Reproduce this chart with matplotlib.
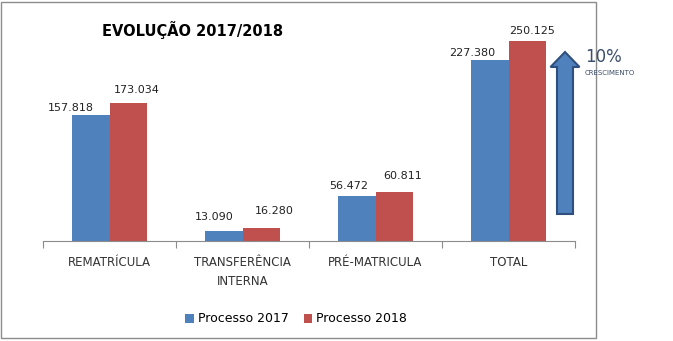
import matplotlib.pyplot as plt
import numpy as np
from matplotlib.patches import Rectangle, FancyArrow

categories = ["REMATRÍCULA", "TRANSFERÊNCIA\nINTERNA", "PRÉ-MATRICULA", "TOTAL"]
proc2017 = [157818, 13090, 56472, 227380]
proc2018 = [173034, 16280, 60811, 250125]
labels2017 = ["157.818", "13.090", "56.472", "227.380"]
labels2018 = ["173.034", "16.280", "60.811", "250.125"]

# label offsets (pixels) relative to bar top-centre, as placed in the original
offs2017 = [(-20, 7), (-10, 14), (-8, 10), (-18, 7)]
offs2018 = [(9, 13), (13, 17), (8, 16), (5, 10)]

plt.rcParams['font.family'] = ['DejaVu Sans']
fig = plt.figure(figsize=(6.73, 3.41), dpi=100)
fig.patches.append(Rectangle((1/673, 3/341), 595/673, 336/341, transform=fig.transFigure,
                             fill=False, edgecolor='#8c8c8c', linewidth=1))

ax = fig.add_axes([43/673, 1-241/341, 532/673, 221/341])
x = np.arange(len(categories))
w = 0.282
blue = '#4f81bd'
red = '#c0504d'
b1 = ax.bar(x - w/2, proc2017, w, color=blue, label='Processo 2017')
b2 = ax.bar(x + w/2, proc2018, w, color=red, label='Processo 2018')
for i in range(len(categories)):
    ax.annotate(labels2017[i], (x[i] - w/2, proc2017[i]), xytext=offs2017[i],
                textcoords='offset pixels', ha='center', va='center', fontsize=8, color='#222222')
    ax.annotate(labels2018[i], (x[i] + w/2, proc2018[i]), xytext=offs2018[i],
                textcoords='offset pixels', ha='center', va='center', fontsize=8, color='#222222')

ax.set_xlim(-0.5, 3.5)
ax.set_ylim(0, 277000)
for s in ['top', 'right', 'left']:
    ax.spines[s].set_visible(False)
ax.spines['bottom'].set_color('#8c8c8c')
ax.set_yticks([])
ax.set_xticks([-0.5, 0.5, 1.5, 2.5, 3.5], minor=False)
ax.set_xticklabels([])
ax.tick_params(axis='x', length=5, color='#8c8c8c', direction='out')
ax.set_xticks(x, minor=True)
ax.set_xticklabels(categories, minor=True, fontsize=8.5, color='#333333', linespacing=1.6)
ax.tick_params(axis='x', which='minor', length=0, pad=11)

fig.text(193/673, 1-30/341, "EVOLUÇÃO 2017/2018", ha='center', va='center', fontsize=10.5, fontweight='bold')

arr = FancyArrow(565/673, 1-214/341, 0, 162/341, width=16/673, head_width=29/673,
                 head_length=15/341, length_includes_head=True, transform=fig.transFigure,
                 facecolor=blue, edgecolor='#2f4f7f', linewidth=1.5)
fig.patches.append(arr)
fig.text(585/673, 1-57/341, "10%", ha='left', va='center', fontsize=12, color='#3b4e6b')
fig.text(585/673, 1-73/341, "CRESCIMENTO", ha='left', va='center', fontsize=5, color='#3b4e6b')

fig.legend(handles=[b1, b2], loc='center', bbox_to_anchor=(296/673, 1-319/341), ncol=2,
           frameon=False, fontsize=9, handlelength=0.7, handleheight=0.7, handletextpad=0.3,
           columnspacing=1.2)

fig.savefig('out.png', dpi=100, facecolor='white')
